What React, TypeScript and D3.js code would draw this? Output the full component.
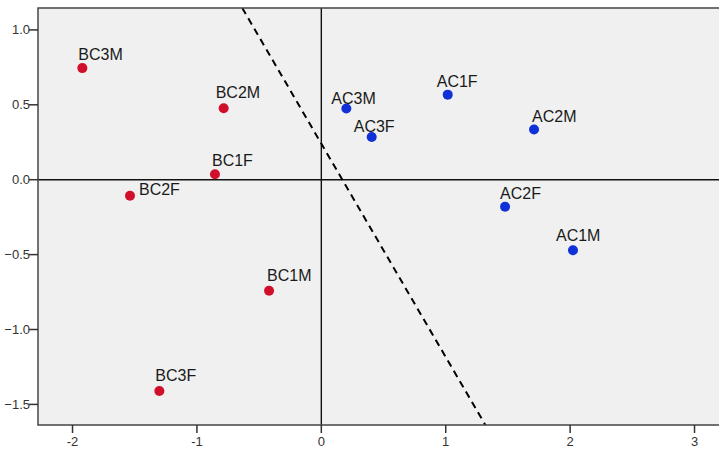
import React from "react";
import * as d3 from "d3";

// Group means on the two discriminant dimensions
const bcLabels = ["BC3M", "BC2M", "BC1F", "BC2F", "BC1M", "BC3F"];
const bcX = [-1.921, -0.785, -0.855, -1.538, -0.42, -1.302];
const bcY = [0.745, 0.477, 0.036, -0.107, -0.741, -1.41];

const acLabels = ["AC3M", "AC3F", "AC1F", "AC2M", "AC2F", "AC1M"];
const acX = [0.201, 0.405, 1.016, 1.71, 1.477, 2.023];
const acY = [0.475, 0.285, 0.568, 0.335, -0.18, -0.471];

const xTicks = [-2, -1, 0, 1, 2, 3];
const yTicks = [1.0, 0.5, 0.0, -0.5, -1.0, -1.5];

// Separating boundary: x = boundaryX0 + boundarySlope * y
const boundaryX0 = 0.169;
const boundarySlope = -0.702;

// Label placement relative to each dot (pixels)
const labelShift: Record<string, [number, number]> = {
  BC3M: [-4, -8],
  BC2M: [-8, -10],
  BC1F: [-3, -8],
  BC2F: [9, -1],
  BC1M: [-2, -10],
  BC3F: [-4, -10],
  AC3M: [-15, -5],
  AC3F: [-18, -5],
  AC1F: [-11, -8],
  AC2M: [-2, -8],
  AC2F: [-5, -8],
  AC1M: [-17, -9],
};

const W = 719;
const H = 449;
const left = 38;
const right = 726;
const top = 8;
const bottom = 425;

const fmtY = (t: number) => (t < 0 ? "\u2212" + Math.abs(t).toFixed(1) : t.toFixed(1));
const fmtX = (t: number) => String(t);

export default function App() {
  const x = d3.scaleLinear().domain([-2.2775, 3.253]).range([left, right]);
  const y = d3.scaleLinear().domain([1.1463, -1.6375]).range([top, bottom]);

  const points = [
    ...bcLabels.map((l, i) => ({ label: l, x: bcX[i], y: bcY[i], color: "#d0102a" })),
    ...acLabels.map((l, i) => ({ label: l, x: acX[i], y: acY[i], color: "#1030d8" })),
  ];

  const [yTop, yBot] = y.domain();
  const lx1 = x(boundaryX0 + boundarySlope * yTop);
  const lx2 = x(boundaryX0 + boundarySlope * yBot);

  const font = "'Liberation Sans', Arial, sans-serif";

  return (
    <svg
      width={W}
      height={H}
      style={{ position: "absolute", left: 0, top: 0, display: "block", background: "#fff" }}
      fontFamily={font}
    >
      <defs>
        <clipPath id="plotClip">
          <rect x={left} y={top} width={right - left} height={bottom - top} />
        </clipPath>
      </defs>
      <rect x={left} y={top} width={right - left} height={bottom - top} fill="#f0f0f0" />

      <g clipPath="url(#plotClip)">
        <line x1={x(0)} x2={x(0)} y1={top} y2={bottom} stroke="#111" strokeWidth={1.4} />
        <line x1={left} x2={right} y1={y(0)} y2={y(0)} stroke="#111" strokeWidth={1.4} />
        <line
          x1={lx1}
          y1={y(yTop)}
          x2={lx2}
          y2={y(yBot)}
          stroke="#000"
          strokeWidth={2}
          strokeDasharray="7,5"
        />
        {points.map((p) => (
          <circle key={p.label} cx={x(p.x)} cy={y(p.y)} r={5} fill={p.color} />
        ))}
        {points.map((p) => {
          const [dx, dy] = labelShift[p.label];
          return (
            <text
              key={"t" + p.label}
              x={x(p.x) + dx}
              y={y(p.y) + dy}
              fontSize={16}
              fill="#1a1a1a"
            >
              {p.label}
            </text>
          );
        })}
      </g>

      <rect
        x={left}
        y={top}
        width={right - left}
        height={bottom - top}
        fill="none"
        stroke="#444"
        strokeWidth={1.5}
      />

      {yTicks.map((t) => (
        <g key={"y" + t}>
          <line x1={left - 9} x2={left} y1={y(t)} y2={y(t)} stroke="#333" strokeWidth={1.5} />
          <text x={left - 8} y={y(t) + 4.5} textAnchor="end" fontSize={13} fill="#333">
            {fmtY(t)}
          </text>
        </g>
      ))}
      {xTicks.map((t) => (
        <g key={"x" + t}>
          <line x1={x(t)} x2={x(t)} y1={bottom} y2={bottom + 8} stroke="#333" strokeWidth={1.5} />
          <text x={x(t)} y={bottom + 21} textAnchor="middle" fontSize={13} fill="#333">
            {fmtX(t)}
          </text>
        </g>
      ))}
    </svg>
  );
}
